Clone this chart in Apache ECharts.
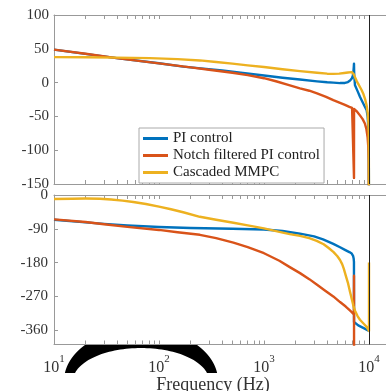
<!DOCTYPE html>
<html><head><meta charset="utf-8">
<script src="https://cdn.jsdelivr.net/npm/echarts@6/dist/echarts.min.js"></script>
<style>html,body{margin:0;padding:0;background:#fff}#c{width:386px;height:391px}</style>
</head><body><div id="c"></div>
<script>
const seriesNames = ['PI control', 'Notch filtered PI control', 'Cascaded MMPC'];
const seriesColors = ['#0072BD', '#D95319', '#EDB120'];

// Magnitude (dB) : [frequency Hz, value]
const magPI = [[10,48.7],[39.5,36.2],[100,28.6],[170,23.6],[250,21],[400,17.8],[600,14.5],[1000,10.6],[1500,7.2],[2200,4.5],[3200,1.8],[4000,0.5],[4570,0],[5300,-0.7],[5900,-0.5],[6300,0.8],[6600,3],[6850,6],[7000,10],[7100,15],[7170,24],[7197,28],[7215,18],[7250,8],[7356,-4],[7800,-13],[8200,-21],[8700,-29],[9160,-36],[9500,-41],[9700,-50],[9850,-65],[9950,-95],[10000,-200]];
const magNotch = [[10,48.7],[20,42.6],[39.5,36.2],[100,28.5],[200,22.5],[300,19],[500,14.5],[700,11],[1000,6.5],[1300,2],[1700,-3.5],[2200,-8.5],[2700,-12],[3200,-16],[3900,-21],[4570,-26],[5300,-30],[5900,-33],[6500,-36],[6900,-37.5],[7150,-38.5],[7190,-38.8],[7197,-141],[7205,-39],[7400,-40.5],[7700,-43],[8200,-48.5],[8700,-54],[9160,-61],[9450,-69],[9700,-81],[9850,-95],[9930,-115],[10000,-200]];
const magMMPC = [[10,37.7],[20,37.4],[39.5,36.9],[82,36.2],[150,34.8],[245,32.8],[350,30.5],[500,28],[700,25.5],[1000,23],[1500,19.8],[2200,17],[3200,14.5],[4000,13.2],[4570,12.9],[5200,13.3],[5800,14.2],[6300,15],[6844,15.5],[7000,14.8],[7150,12.5],[7356,8],[7600,3],[7900,-2],[8200,-6.5],[8500,-11],[8800,-16],[9160,-24],[9500,-34],[9700,-44],[9850,-57],[9950,-75],[10000,-200]];

// Phase (deg) : [frequency Hz, value]
const phPI = [[10,-66],[20,-73],[30,-77],[50,-81],[100,-85],[200,-88],[500,-90],[1000,-92],[1500,-96],[2203,-103],[3000,-110],[3650,-118],[4571,-130],[5300,-139],[5900,-146],[6500,-152],[6844,-156],[7050,-162],[7150,-170],[7190,-178],[7200,-338],[7900,-347],[9000,-355],[10000,-362]];
const phNotch = [[10,-65],[20,-72],[30,-78],[50,-85],[100,-93],[150,-99],[245,-106],[350,-115],[511,-127],[700,-139],[1000,-155],[1400,-175],[1760,-192],[2203,-208],[2700,-224],[3177,-238],[3800,-254],[4571,-270],[5300,-285],[6000,-297],[6500,-306],[6844,-312],[7180,-318],[7197,-215],[7210,-500],[10000,-500]];
const phMMPC = [[10,-10.7],[15,-9.8],[20,-9.5],[27.4,-10],[35,-12],[45,-15],[56.9,-18.5],[75,-24],[100,-31],[130,-38],[170,-46],[245,-58],[350,-66],[511,-74],[700,-81],[1000,-89],[1400,-98],[1760,-104],[2203,-109],[2700,-115],[3177,-122],[3700,-131],[4130,-141],[4600,-152],[5000,-163],[5297,-173],[5550,-184],[5750,-196],[6000,-214],[6330,-236],[6600,-258],[6844,-276],[7100,-295],[7356,-308],[7800,-323],[8202,-332],[9000,-344],[9500,-351],[10000,-362],[10000,-180]];

const xLabelValues = [10, 100, 1000, 10000];
const phaseTickValues = [0, -90, -180, -270, -360];
const nyquist = 10000;

const FONT = 'Liberation Serif';
const TXT = '#333';
const AX = '#999';
const xMax = Math.pow(10, 4.2);

const xMinorValues = [];
[10, 100, 1000].forEach(d => { for (let m = 1; m <= 9; m++) xMinorValues.push(d * m); });
xMinorValues.push(10000);

function xAx(grid, pos, labels) {
  const a = {
    gridIndex: grid, type: 'log', logBase: 10, min: 10, max: xMax, position: pos,
    axisLine: { show: true, onZero: false, lineStyle: { color: AX, width: 1 } },
    axisTick: { show: true, inside: true, length: 4, customValues: xMinorValues, lineStyle: { color: AX } },
    axisLabel: { show: false },
    splitLine: { show: false }, minorTick: { show: false }
  };
  if (labels) {
    a.axisLabel = {
      show: true, customValues: xLabelValues, margin: 9,
      formatter: v => '{b|10}{s|' + Math.round(Math.log10(v)) + '}',
      rich: {
        b: { fontFamily: FONT, fontSize: 16, color: TXT, lineHeight: 22, verticalAlign: 'bottom' },
        s: { fontFamily: FONT, fontSize: 11, color: TXT, lineHeight: 11, verticalAlign: 'top' }
      }
    };
    a.name = 'Frequency (Hz)';
    a.nameLocation = 'middle';
    a.nameGap = 22;
    a.nameTextStyle = { fontFamily: FONT, fontSize: 18, color: TXT, padding: [0, 18, 0, 0] };
  }
  return a;
}

function archPoints() {
  const cx = 141, cy = 381, aO = 77, bO = 52.5, aI = 68, bI = 33, yTop = 345, yBot = 373;
  const pts = [];
  for (let y = yBot; y >= yTop; y -= 1) { const dy = cy - y; pts.push([cx - aO * Math.sqrt(Math.max(0, 1 - (dy / bO) ** 2)), y]); }
  for (let y = yTop; y <= yBot; y += 1) { const dy = cy - y; pts.push([cx + aO * Math.sqrt(Math.max(0, 1 - (dy / bO) ** 2)), y]); }
  const t0 = Math.asin((cy - yBot) / bI);
  for (let i = 0; i <= 60; i++) { const t = t0 + (Math.PI - 2 * t0) * i / 60; pts.push([cx + aI * Math.cos(t), cy - bI * Math.sin(t)]); }
  return pts;
}

function mk(name, color, data, xi, yi, withLine) {
  const s = {
    name, type: 'line', data, xAxisIndex: xi, yAxisIndex: yi, showSymbol: false, symbol: 'none',
    clip: true, color, lineStyle: { color, width: 2.4, join: 'round' }, emphasis: { disabled: true }
  };
  if (withLine) {
    s.markLine = {
      silent: true, symbol: 'none', label: { show: false },
      lineStyle: { color: '#222', width: 1, type: 'solid' },
      data: [{ xAxis: nyquist }]
    };
  }
  return s;
}

const chart = echarts.init(document.getElementById('c'), null, { renderer: 'canvas' });
chart.setOption({
  animation: false,
  backgroundColor: '#fff',
  grid: [
    { left: 54, top: 15, width: 336, height: 169, outerBoundsMode: 'none', containLabel: false },
    { left: 54, top: 195, width: 336, height: 149.5, outerBoundsMode: 'none', containLabel: false }
  ],
  xAxis: [xAx(0, 'bottom', false), xAx(0, 'top', false), xAx(1, 'bottom', true), xAx(1, 'top', false)],
  yAxis: [
    {
      gridIndex: 0, type: 'value', min: -150, max: 100, interval: 50,
      axisLine: { show: true, onZero: false, lineStyle: { color: AX } },
      axisTick: { show: true, inside: true, length: 4, lineStyle: { color: AX } },
      axisLabel: { fontFamily: FONT, fontSize: 15, color: TXT, margin: 5 },
      splitLine: { show: false }
    },
    {
      gridIndex: 1, type: 'value', min: -398, max: 0,
      axisLine: { show: true, onZero: false, lineStyle: { color: AX } },
      axisTick: { show: true, inside: true, length: 4, customValues: phaseTickValues, lineStyle: { color: AX } },
      axisLabel: { fontFamily: FONT, fontSize: 15, color: TXT, margin: 6, customValues: phaseTickValues },
      splitLine: { show: false }
    }
  ],
  legend: {
    data: seriesNames, orient: 'vertical', left: 139, top: 128,
    itemWidth: 25, itemHeight: 3, icon: 'rect', itemGap: 2,
    padding: [3, 4, 3, 4], borderColor: '#aaa', borderWidth: 1, backgroundColor: '#fff',
    textStyle: { fontFamily: FONT, fontSize: 15, color: '#222', lineHeight: 15 },
    selectedMode: false
  },
  graphic: [{ type: 'polygon', silent: true, z: 1, shape: { points: archPoints() }, style: { fill: '#000' } }],
  series: [
    mk(seriesNames[0], seriesColors[0], magPI, 0, 0, true),
    mk(seriesNames[1], seriesColors[1], magNotch, 0, 0, false),
    mk(seriesNames[2], seriesColors[2], magMMPC, 0, 0, false),
    mk(seriesNames[0], seriesColors[0], phPI, 2, 1, true),
    mk(seriesNames[1], seriesColors[1], phNotch, 2, 1, false),
    mk(seriesNames[2], seriesColors[2], phMMPC, 2, 1, false)
  ]
});
</script>
</body></html>
